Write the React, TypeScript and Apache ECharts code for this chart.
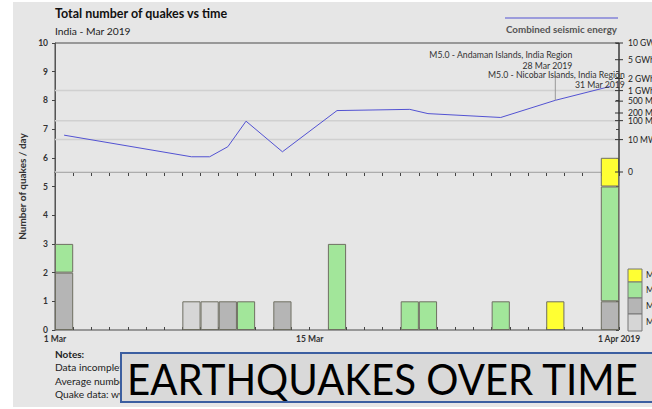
import React, { useEffect, useRef } from 'react';
import * as echarts from 'echarts';

// ---- data ----
const dayCategories = ['1','2','3','4','5','6','7','8','9','10','11','12','13','14','15','16','17','18','19','20','21','22','23','24','25','26','27','28','29','30','31'];

// quakes per day by magnitude band (index 0 = 1 Mar)
const magM2 = [null,null,null,null,null,null,null,1,1,null,null,null,null,null,null,null,null,null,null,null,null,null,null,null,null,null,null,null,null,null,null];
const magM3 = [2,null,null,null,null,null,null,null,null,1,null,null,1,null,null,null,null,null,null,null,null,null,null,null,null,null,null,null,null,null,1];
const magM4 = [1,null,null,null,null,null,null,null,null,null,1,null,null,null,null,3,null,null,null,1,1,null,null,null,1,null,null,null,null,null,4];
const magM5 = [null,null,null,null,null,null,null,null,null,null,null,null,null,null,null,null,null,null,null,null,null,null,null,null,null,null,null,1,null,null,1];

const bandNames = ['M2', 'M3', 'M4', 'M5+'];
const bandColors = ['#d6d6d6', '#b5b5b5', '#a2e69a', '#ffff33'];

// combined seismic energy (MWh), day index
const energyDays = [0, 7, 8, 9, 10, 12, 15, 19, 20, 24, 27, 30];
const energyMWh = [19, 0.23, 0.23, 2.9, 95, 0.95, 245, 270, 190, 135, 530, 1280];

// right axis ticks (MWh)
const energyTicks = [10000, 5000, 2000, 1000, 500, 200, 100, 10, 0];
const energyTickLabels = ['10 GWh', '5 GWh', '2 GWh', '1 GWh', '500 MWh', '200 MWh', '100 MWh', '10 MWh', '0'];
const energyGridTicks = [1000, 100, 10, 0];

// x axis labels
const xLabelDays = [0, 14, 31];
const xLabelTexts = ['1 Mar', '15 Mar', '1 Apr 2019'];

// annotations
const annDays = [27, 30];
const annEnergy = [530, 1280];
const annTitles = ['M5.0 - Andaman Islands, India Region', 'M5.0 - Nicobar Islands, India Region'];
const annDates = ['28 Mar 2019', '31 Mar 2019'];

const notesLines = [
  'Data incomplete for the current month',
  'Average number of quakes per month: 12',
  'Quake data: www.emsc-csem.org',
];

// ---- layout helpers ----
const POW = 0.2;
const tf = (e: number) => Math.pow(e, POW);
const tTop = tf(10000);
const zeroFrac = 0.5505; // fraction of plot height where energy 0 sits
const tMin = -tTop * zeroFrac / (1 - zeroFrac);
const annLayout = [
  { dx: 17, dy1: -46, dy2: -35, leader: -25 },
  { dx: 15, dy1: -12, dy2: -2, leader: 0 },
];
const FONT = 'Lato';

export default function App() {
  const ref = useRef<HTMLDivElement>(null);
  useEffect(() => {
    if (!ref.current) return;
    const chart = echarts.init(ref.current, undefined, { renderer: 'svg' });
    const bandData = [magM2, magM3, magM4, magM5];

    const option: any = {
      animation: false,
      backgroundColor: '#e6e6e6',
      textStyle: { fontFamily: FONT },
      grid: { left: 55, right: 33, top: 43, bottom: 79, show: true, borderColor: '#4a4a4a', borderWidth: 1, backgroundColor: 'transparent' },
      xAxis: [
        { type: 'category', data: dayCategories, boundaryGap: true, axisLine: { show: false }, axisTick: { show: false }, axisLabel: { show: false }, splitLine: { show: false } },
        {
          type: 'value', min: 0, max: 31, interval: 1, position: 'bottom',
          axisLine: { show: true, lineStyle: { color: '#444', width: 1 } },
          axisTick: { show: true, length: 4, lineStyle: { color: '#444' } },
          axisLabel: {
            fontFamily: FONT, fontWeight: 'bold', fontSize: 8.5, color: '#333', margin: 4,
            formatter: (v: number) => { const i = xLabelDays.indexOf(Math.round(v)); return i >= 0 ? xLabelTexts[i] : ''; },
          },
          splitLine: { show: false },
        },
        {
          type: 'value', min: 0, max: 31, interval: 1, position: 'bottom',
          axisLine: { show: false }, axisTick: { show: true, inside: true, length: 3, lineStyle: { color: '#444' } },
          axisLabel: { show: false }, splitLine: { show: false },
        },
      ],
      yAxis: [
        {
          type: 'value', min: 0, max: 10, interval: 1,
          name: 'Number of quakes / day', nameLocation: 'middle', nameGap: 20,
          nameTextStyle: { fontFamily: FONT, fontWeight: 'bold', fontSize: 10, color: '#333' },
          axisLine: { show: true, lineStyle: { color: '#555' } },
          axisTick: { show: true, length: 3, lineStyle: { color: '#444' } },
          axisLabel: { fontFamily: FONT, fontWeight: 'bold', fontSize: 8.5, color: '#333', margin: 7 },
          splitLine: { show: false },
        },
        { type: 'value', min: tMin, max: tTop, position: 'right', show: false, splitLine: { show: false } },
        {
          type: 'value', min: 0, max: 10, interval: 1,
          axisLine: { show: false }, axisTick: { show: true, inside: true, length: 3, lineStyle: { color: '#444' } },
          axisLabel: { show: false }, splitLine: { show: false },
        },
      ],
      series: [
        {
          type: 'custom', xAxisIndex: 1, yAxisIndex: 1, silent: true, z: 1,
          data: energyGridTicks.map((e) => [0, tf(e)]),
          renderItem: (params: any, api: any) => {
            const t = api.value(1);
            const a = api.coord([0, t]);
            const b = api.coord([31, t]);
            return { type: 'line', shape: { x1: a[0], y1: a[1], x2: b[0], y2: b[1] }, style: { stroke: '#d0d0d0', lineWidth: 1.5 } };
          },
        },
        ...bandData.map((d, i) => ({
          type: 'bar', name: bandNames[i], stack: 'q', data: d, barCategoryGap: '0%', z: 2,
          itemStyle: { color: bandColors[i], borderColor: '#6f6f62', borderWidth: 1 },
        })),
        {
          type: 'line', xAxisIndex: 1, yAxisIndex: 1, z: 3, symbol: 'none',
          data: energyDays.map((d, i) => [d + 0.5, tf(energyMWh[i])]),
          lineStyle: { color: '#5252d2', width: 1 },
        },
        {
          type: 'custom', xAxisIndex: 1, yAxisIndex: 1, silent: true, z: 5,
          data: energyTicks.map((e, i) => [i, tf(e)]),
          renderItem: (params: any, api: any) => {
            const i = api.value(0);
            const t = api.value(1);
            const p = api.coord([31, t]);
            const children: any[] = [
              { type: 'line', shape: { x1: p[0] - 4, y1: p[1], x2: p[0] + 4, y2: p[1] }, style: { stroke: '#333', lineWidth: 1 } },
              { type: 'text', style: { x: p[0] + 9, y: p[1], text: energyTickLabels[i], fontFamily: FONT, fontSize: 8.5, fill: '#222', textAlign: 'left', textVerticalAlign: 'middle' } },
            ];
            if (i === 0) {
              const q = api.coord([31, 0]);
              children.push({ type: 'line', shape: { x1: p[0], y1: p[1], x2: q[0], y2: q[1] }, style: { stroke: '#333', lineWidth: 1 } });
            }
            return { type: 'group', children };
          },
        },
        {
          type: 'custom', xAxisIndex: 1, yAxisIndex: 1, silent: true, z: 6,
          data: annDays.map((d, i) => [d + 0.5, tf(annEnergy[i]), i]),
          renderItem: (params: any, api: any) => {
            const i = api.value(2);
            const L = annLayout[i];
            const p = api.coord([api.value(0), api.value(1)]);
            const children: any[] = [
              { type: 'text', style: { x: p[0] + L.dx, y: p[1] + L.dy1, text: annTitles[i], fontFamily: FONT, fontSize: 8.7, fill: '#333', textAlign: 'right', textVerticalAlign: 'middle' } },
              { type: 'text', style: { x: p[0] + L.dx, y: p[1] + L.dy2, text: annDates[i], fontFamily: FONT, fontSize: 8.7, fill: '#333', textAlign: 'right', textVerticalAlign: 'middle' } },
            ];
            if (L.leader) {
              children.push({ type: 'line', shape: { x1: p[0], y1: p[1], x2: p[0], y2: p[1] + L.leader }, style: { stroke: '#999', lineWidth: 1 } });
            }
            return { type: 'group', children };
          },
        },
      ],
      graphic: [
        { type: 'rect', shape: { x: 0, y: 0, width: 13, height: 409 }, style: { fill: '#ffffff' }, z: 0 },
        { type: 'rect', shape: { x: 0, y: 0, width: 652, height: 2 }, style: { fill: '#ffffff' }, z: 0 },
        { type: 'rect', shape: { x: 0, y: 407, width: 652, height: 2 }, style: { fill: '#ffffff' }, z: 0 },
        { type: 'text', x: 55, y: 13, style: { text: 'Total number of quakes vs time', fontFamily: FONT, fontWeight: 'bold', fontSize: 12.5, fill: '#111', textVerticalAlign: 'middle' } },
        { type: 'text', x: 55, y: 31, style: { text: 'India - Mar 2019', fontFamily: FONT, fontSize: 10.3, fill: '#222', textVerticalAlign: 'middle' } },
        { type: 'line', shape: { x1: 505, y1: 18, x2: 618, y2: 18 }, style: { stroke: '#5252d2', lineWidth: 1 } },
        { type: 'text', x: 561.5, y: 29, style: { text: 'Combined seismic energy', fontFamily: FONT, fontWeight: 'bold', fontSize: 9.8, fill: '#555', textAlign: 'center', textVerticalAlign: 'middle' } },
        ...bandNames.slice().reverse().map((n, k) => {
          const ys = [269, 282, 298, 314];
          const hs = [13, 16, 16, 17];
          return { type: 'rect', shape: { x: 628, y: ys[k], width: 14, height: hs[k] }, style: { fill: bandColors[3 - k], stroke: '#777', lineWidth: 1 } };
        }),
        ...bandNames.slice().reverse().map((n, k) => {
          const yc = [275, 290, 306, 322];
          return { type: 'text', x: 646, y: yc[k], style: { text: n, fontFamily: FONT, fontSize: 8.5, fill: '#222', textVerticalAlign: 'middle' } };
        }),
        { type: 'text', x: 55, y: 354, style: { text: 'Notes:', fontFamily: FONT, fontWeight: 'bold', fontSize: 10, fill: '#222', textVerticalAlign: 'middle' } },
        ...notesLines.map((t, k) => ({ type: 'text', x: 55, y: 367 + k * 13.5, style: { text: t, fontFamily: FONT, fontSize: 10.2, fill: '#222', textVerticalAlign: 'middle' } })),
        { type: 'rect', z: 100, shape: { x: 121, y: 353, width: 540, height: 49 }, style: { fill: '#d9d9d9', stroke: '#3b5ea0', lineWidth: 2 } },
        { type: 'text', z: 101, x: 127, y: 378, scaleX: 0.935, style: { text: 'EARTHQUAKES OVER TIME', fontFamily: FONT, fontSize: 43, fill: '#000', textVerticalAlign: 'middle' } },
      ],
    };
    chart.setOption(option);
    return () => chart.dispose();
  }, []);
  return <div ref={ref} style={{ position: 'absolute', left: 0, top: 0, width: 652, height: 409 }} />;
}
